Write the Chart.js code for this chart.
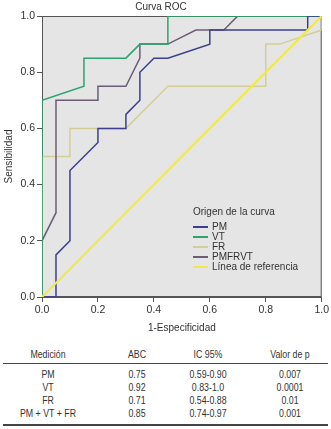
<!DOCTYPE html>
<html>
<head>
<meta charset="utf-8">
<script src="https://cdn.jsdelivr.net/npm/chart.js@4"></script>
<style>
  html, body { margin: 0; padding: 0; background: #fff; }
  #wrap { position: relative; width: 331px; height: 429px; overflow: hidden; }
  #rocChart { position: absolute; left: 0; top: 0; }
  #tabla { position: absolute; left: 0; top: 344px; width: 331px; height: 85px;
    font-family: "Liberation Sans", Arial, sans-serif; font-size: 11px; color: #333; }
  .cell { position: absolute; width: 110px; text-align: center; white-space: nowrap;
    transform: scaleX(0.8); transform-origin: 50% 50%; }
  .rule { position: absolute; left: 3px; width: 325px; background: #444; }
</style>
</head>
<body>
<div id="wrap">
  <canvas id="rocChart" width="331" height="340"></canvas>
  <div id="tabla"></div>
</div>
<script>
// ROC curves (1-especificidad, sensibilidad)
const pmX = [0, 0.05, 0.05, 0.1, 0.1, 0.2, 0.2, 0.3, 0.3, 0.35, 0.35, 0.4, 0.45, 0.6, 0.6, 0.95, 0.95, 1];
const pmY = [0, 0, 0.15, 0.2, 0.45, 0.55, 0.6, 0.6, 0.65, 0.7, 0.8, 0.85, 0.85, 0.9, 0.95, 0.95, 1, 1];

const vtX = [0, 0, 0.15, 0.15, 0.3, 0.35, 0.45, 0.45, 1];
const vtY = [0, 0.7, 0.75, 0.85, 0.85, 0.9, 0.9, 1, 1];

const frX = [0, 0, 0.1, 0.1, 0.3, 0.45, 0.8, 0.8, 0.85, 1, 1];
const frY = [0, 0.5, 0.5, 0.6, 0.6, 0.75, 0.75, 0.9, 0.9, 0.95, 1];

const combX = [0, 0, 0.05, 0.05, 0.2, 0.2, 0.3, 0.35, 0.35, 0.45, 0.55, 0.65, 0.7, 1];
const combY = [0, 0.2, 0.3, 0.7, 0.7, 0.75, 0.75, 0.85, 0.9, 0.9, 0.95, 0.95, 1, 1];

const refX = [0, 1];
const refY = [0, 1];

const axisTicks = [0, 0.2, 0.4, 0.6, 0.8, 1.0];

// table under the chart
const tableHeader = ['Medición', 'ABC', 'IC 95%', 'Valor de p'];
const tableMeasure = ['PM', 'VT', 'FR', 'PM + VT + FR'];
const tableABC = ['0.75', '0.92', '0.71', '0.85'];
const tableIC = ['0.59-0.90', '0.83-1.0', '0.54-0.88', '0.74-0.97'];
const tableP = ['0.007', '0.0001', '0.01', '0.001'];

const toPoints = (xs, ys) => xs.map((x, i) => ({ x: x, y: ys[i] }));

const textColor = '#333';
const baseFont = { family: '"Liberation Sans", Arial, sans-serif', size: 10 };
const tickFont = { family: '"Liberation Sans", Arial, sans-serif', size: 10.5 };

// grey plot background + frame
const plotBackground = {
  id: 'plotBackground',
  beforeDatasetsDraw(chart) {
    const { ctx, chartArea: a } = chart;
    ctx.save();
    ctx.fillStyle = '#e5e5e5';
    ctx.fillRect(a.left, a.top, a.right - a.left, a.bottom - a.top);
    ctx.strokeStyle = '#555';
    ctx.lineWidth = 1;
    ctx.strokeRect(a.left + 0.5, a.top + 0.5, a.right - a.left - 1, a.bottom - a.top - 1);
    ctx.restore();
  }
};

// legend drawn inside the plot, lower right
const innerLegend = {
  id: 'innerLegend',
  afterDatasetsDraw(chart) {
    const { ctx } = chart;
    const x0 = 193, y0 = 212;
    ctx.save();
    ctx.font = '10px "Liberation Sans", Arial, sans-serif';
    ctx.fillStyle = textColor;
    ctx.textBaseline = 'middle';
    ctx.fillText('Origen de la curva', x0, y0);
    chart.data.datasets.forEach((ds, i) => {
      const y = y0 + 15 + i * 10;
      ctx.strokeStyle = ds.borderColor;
      ctx.lineWidth = 2;
      ctx.beginPath();
      ctx.moveTo(x0, y);
      ctx.lineTo(x0 + 15, y);
      ctx.stroke();
      ctx.fillStyle = textColor;
      ctx.fillText(ds.label, x0 + 19, y);
    });
    ctx.restore();
  }
};

const makeSet = (label, xs, ys, color, width, order) => ({
  label: label,
  data: toPoints(xs, ys),
  borderColor: color,
  backgroundColor: color,
  borderWidth: width,
  showLine: true,
  pointRadius: 0,
  tension: 0,
  order: order
});

const ctx = document.getElementById('rocChart').getContext('2d');
new Chart(ctx, {
  type: 'scatter',
  data: {
    datasets: [
      makeSet('PM', pmX, pmY, '#3b3f8e', 1.5, 2),
      makeSet('VT', vtX, vtY, '#2ea36f', 1.5, 3),
      makeSet('FR', frX, frY, '#d3ce96', 1.5, 5),
      makeSet('PMFRVT', combX, combY, '#6c5c78', 1.5, 4),
      makeSet('Línea de referencia', refX, refY, '#efe94c', 2.2, 1)
    ]
  },
  options: {
    responsive: false,
    animation: false,
    layout: { padding: { left: 0, right: 9, top: 0, bottom: 6 } },
    plugins: {
      legend: { display: false },
      tooltip: { enabled: false },
      title: {
        display: true,
        text: 'Curva ROC',
        color: textColor,
        font: { ...baseFont, weight: 'normal' },
        padding: { top: 1, bottom: 3 }
      }
    },
    scales: {
      x: {
        type: 'linear',
        min: 0,
        max: 1,
        afterBuildTicks: (scale) => { scale.ticks = axisTicks.map(v => ({ value: v })); },
        afterFit: (scale) => { scale.height = 37; },
        ticks: { color: textColor, font: tickFont, padding: 2, callback: (v) => Number(v).toFixed(1) },
        grid: { drawOnChartArea: false, tickLength: 5, color: '#555' },
        border: { color: '#555' },
        title: { display: true, text: '1-Especificidad', color: textColor, font: baseFont, padding: { top: 0, bottom: 0 } }
      },
      y: {
        type: 'linear',
        min: 0,
        max: 1,
        afterBuildTicks: (scale) => { scale.ticks = axisTicks.map(v => ({ value: v })); },
        afterFit: (scale) => { scale.width = 42; },
        ticks: { color: textColor, font: tickFont, padding: 2, callback: (v) => Number(v).toFixed(1) },
        grid: { drawOnChartArea: false, tickLength: 5, color: '#555' },
        border: { color: '#555' },
        title: { display: true, text: 'Sensibilidad', color: textColor, font: baseFont, padding: { top: 3, bottom: 0 } }
      }
    }
  },
  plugins: [plotBackground, innerLegend]
});

// results table
const tabla = document.getElementById('tabla');
const colCenters = [48, 137, 208, 290];
const addCell = (text, col, centerY) => {
  const el = document.createElement('div');
  el.className = 'cell';
  el.textContent = text;
  el.style.left = (colCenters[col] - 55) + 'px';
  el.style.top = (centerY - 6.5) + 'px';
  tabla.appendChild(el);
};
const addRule = (top, h) => {
  const el = document.createElement('div');
  el.className = 'rule';
  el.style.top = top + 'px';
  el.style.height = h + 'px';
  tabla.appendChild(el);
};
tableHeader.forEach((t, c) => addCell(t, c, 10));
addRule(19, 1);
tableMeasure.forEach((m, r) => {
  const y = 30 + r * 13.2;
  addCell(m, 0, y);
  addCell(tableABC[r], 1, y);
  addCell(tableIC[r], 2, y);
  addCell(tableP[r], 3, y);
});
addRule(80, 2);
</script>
</body>
</html>
